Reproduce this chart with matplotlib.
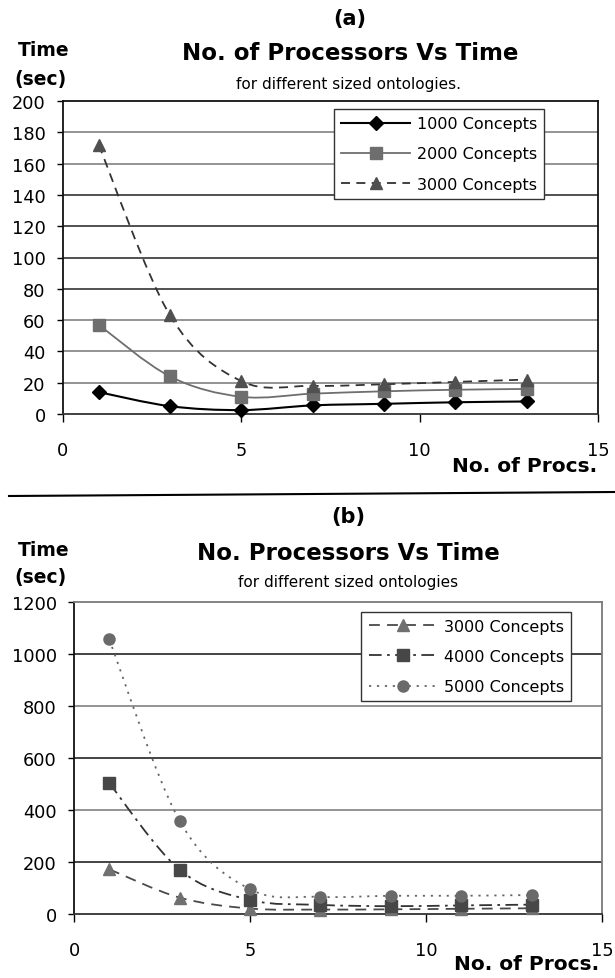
import numpy as np
import matplotlib.pyplot as plt
from matplotlib.path import Path
from matplotlib.patches import PathPatch
from matplotlib.lines import Line2D

plt.rcParams['font.family'] = 'DejaVu Sans'

# processors used in every run
procs = [1, 3, 5, 7, 9, 11, 13]

# (a) small ontologies, time in sec
a_1000 = [14, 5, 2.5, 5.5, 6.5, 7.5, 8]
a_2000 = [57, 24, 11, 13, 14.5, 15.5, 16]
a_3000 = [172, 63, 21, 18, 19, 20.5, 22]

# (b) bigger ontologies, time in sec
b_3000 = [172, 63, 21, 17, 18, 20, 22]
b_4000 = [503, 170, 54, 35, 30, 33, 36]
b_5000 = [1055, 358, 95, 66, 70, 70, 73]

labels_a = ['1000 Concepts', '2000 Concepts', '3000 Concepts']
labels_b = ['3000 Concepts', '4000 Concepts', '5000 Concepts']

W, H = 615, 979


def fy(p):
    return 1 - p / H


def smooth(x, y):
    # excel style smoothed line, bezier segments through the points
    pts = np.column_stack([x, y]).astype(float)
    n = len(pts)
    verts = [pts[0]]
    codes = [Path.MOVETO]
    for i in range(n - 1):
        p0 = pts[max(i - 1, 0)]
        p1 = pts[i]
        p2 = pts[i + 1]
        p3 = pts[min(i + 2, n - 1)]
        verts += [p1 + (p2 - p0) / 6, p2 - (p3 - p1) / 6, p2]
        codes += [Path.CURVE4] * 3
    return Path(verts, codes)


def series(ax, x, y, lcol, mcol, marker, ms, ls, lw):
    ax.add_patch(PathPatch(smooth(x, y), fill=False, edgecolor=lcol,
                           lw=lw, linestyle=ls, capstyle='butt', zorder=2))
    ax.plot(x, y, linestyle='none', marker=marker, ms=ms, color=mcol,
            clip_on=False, zorder=3)
    return Line2D([], [], color=lcol, lw=lw, linestyle=ls, marker=marker,
                  ms=ms, markerfacecolor=mcol, markeredgecolor=mcol)


def style_axes(ax, ymax, ystep, frame, gridcols):
    ax.set_xlim(0, 15)
    ax.set_ylim(0, ymax)
    ax.set_xticks([0, 5, 10, 15])
    ax.set_yticks(np.arange(0, ymax + 1, ystep))
    ax.tick_params(axis='y', length=4.5, width=1, pad=8, labelsize=12.8,
                   direction='out')
    ax.tick_params(axis='x', length=5.5, width=1, pad=14, labelsize=12.8,
                   direction='out')
    # scanned print: grid lines come out a bit uneven, dark and grey
    for yv, c in zip(np.arange(ystep, ymax, ystep), gridcols):
        ax.axhline(yv, color=c, lw=1.1, zorder=1)
    ax.spines['left'].set_color('#111111')
    ax.spines['bottom'].set_color('#333333')
    ax.spines['top'].set_color(frame)
    ax.spines['right'].set_color(frame)
    for s in ax.spines.values():
        s.set_linewidth(1.3)


fig = plt.figure(figsize=(W / 100, H / 100), dpi=100)

# ---------------- (a) ----------------
ax1 = fig.add_axes([63 / W, fy(415), 535 / W, 313 / H])
style_axes(ax1, 200, 20, '#111111',
           ['#777777', '#777777', '#777777', '#222222', '#222222',
            '#222222', '#222222', '#777777', '#777777'])
h1 = series(ax1, procs, a_1000, 'black', 'black', 'D', 7.5, '-', 1.5)
h2 = series(ax1, procs, a_2000, '#6e6e6e', '#6e6e6e', 's', 8, '-', 1.3)
h3 = series(ax1, procs, a_3000, '#333333', '#505050', '^', 9, (0, (5, 3.5)), 1.3)
ax1.legend([h1, h2, h3], labels_a, loc='upper right',
           bbox_to_anchor=((544 - 63) / 535, 1 - 8 / 313), borderaxespad=0,
           fancybox=False, framealpha=1, edgecolor='#333333',
           fontsize=11.5, handlelength=4.3, handletextpad=0.4,
           labelspacing=0.95, borderpad=0.45)

fig.text(350 / W, fy(19), '(a)', ha='center', va='center',
         fontsize=15, fontweight='bold')
fig.text(350 / W, fy(53), 'No. of Processors Vs Time', ha='center',
         va='center', fontsize=16.5, fontweight='bold')
fig.text(349 / W, fy(84), 'for different sized ontologies.', ha='center',
         va='center', fontsize=11)
fig.text(44 / W, fy(50), 'Time', ha='center', va='center',
         fontsize=13.5, fontweight='bold')
fig.text(41 / W, fy(80), '(sec)', ha='center', va='center',
         fontsize=13.5, fontweight='bold')
fig.text(597 / W, fy(467), 'No. of Procs.', ha='right', va='center',
         fontsize=14.5, fontweight='bold')

# separator between the two charts
fig.add_artist(Line2D([9 / W, 1], [fy(497), fy(493)], color='black', lw=1.5))

# ---------------- (b) ----------------
ax2 = fig.add_axes([74 / W, fy(915), 528 / W, 312.3 / H])
style_axes(ax2, 1200, 200, '#7a7a7a',
           ['#111111', '#777777', '#111111', '#777777', '#111111'])
g1 = series(ax2, procs, b_3000, '#4a4a4a', '#707070', '^', 9, (0, (6, 4)), 1.3)
g2 = series(ax2, procs, b_4000, '#333333', '#474747', 's', 8, (0, (7, 3, 1.5, 3)), 1.3)
g3 = series(ax2, procs, b_5000, '#666666', '#6a6a6a', 'o', 8, (0, (1.2, 3.2)), 1.3)
ax2.legend([g1, g2, g3], labels_b, loc='upper right',
           bbox_to_anchor=((571 - 74) / 528, 1 - 10 / 312.3), borderaxespad=0,
           fancybox=False, framealpha=1, edgecolor='#333333',
           fontsize=11.5, handlelength=4.3, handletextpad=0.4,
           labelspacing=0.95, borderpad=0.45)

fig.text(348 / W, fy(517), '(b)', ha='center', va='center',
         fontsize=15, fontweight='bold')
fig.text(348 / W, fy(553), 'No. Processors Vs Time', ha='center',
         va='center', fontsize=16.5, fontweight='bold')
fig.text(348 / W, fy(583), 'for different sized ontologies', ha='center',
         va='center', fontsize=11)
fig.text(44 / W, fy(550), 'Time', ha='center', va='center',
         fontsize=13.5, fontweight='bold')
fig.text(41 / W, fy(578), '(sec)', ha='center', va='center',
         fontsize=13.5, fontweight='bold')
fig.text(599 / W, fy(965), 'No. of Procs.', ha='right', va='center',
         fontsize=14.5, fontweight='bold')

fig.savefig('out.png', dpi=100)
